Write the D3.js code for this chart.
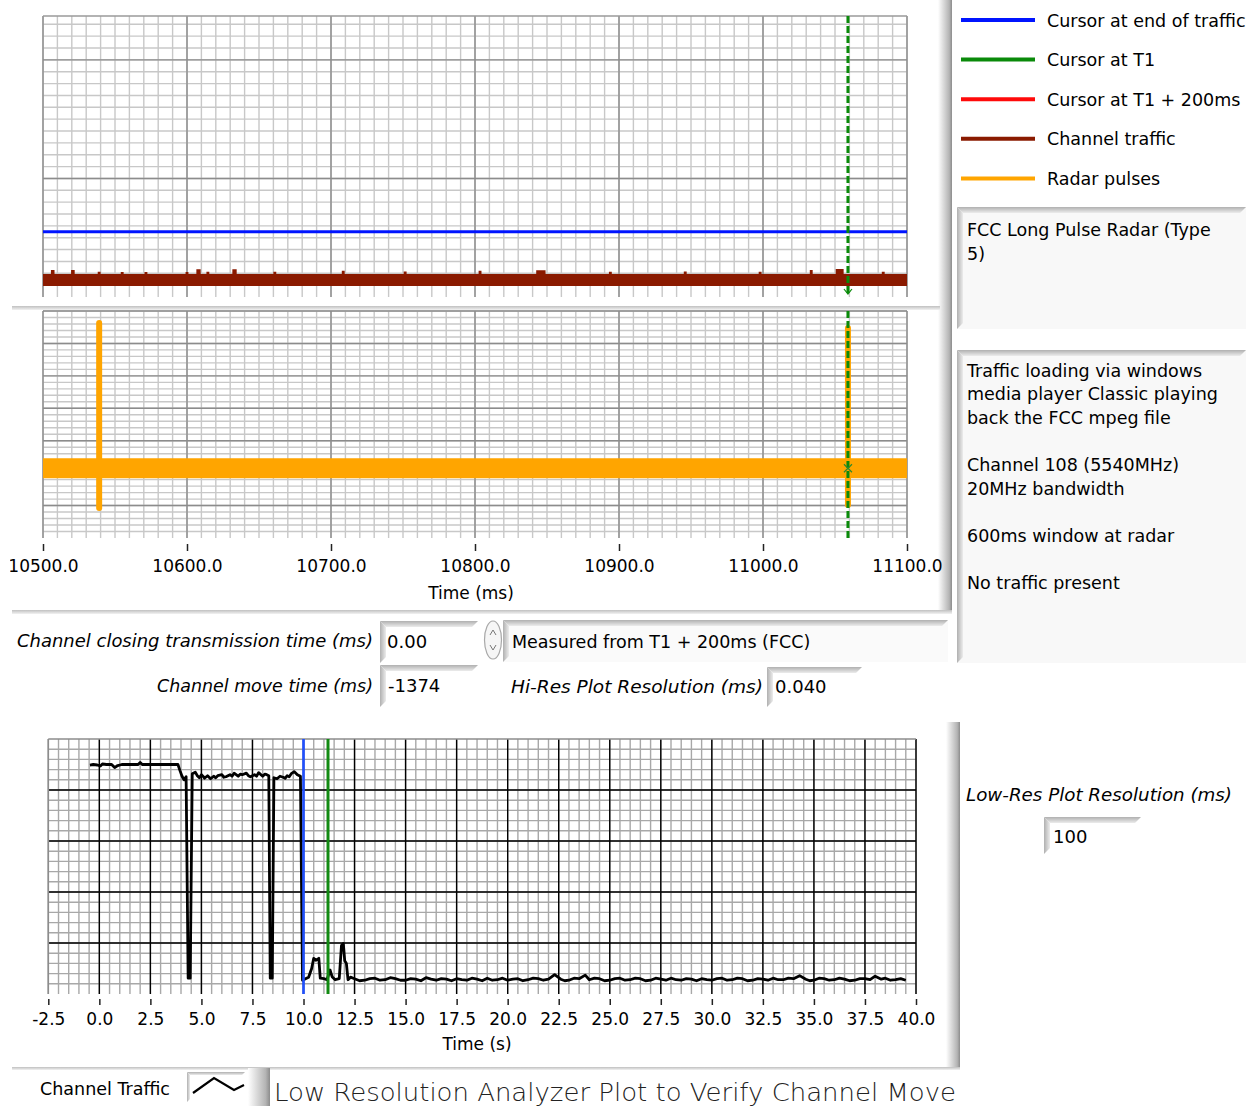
<!DOCTYPE html>
<html>
<head>
<meta charset="utf-8">
<script src="https://cdn.jsdelivr.net/npm/d3@7"></script>
<style>
  body { margin: 0; background: #fff; }
  text { font-family: "DejaVu Sans", sans-serif; fill: #000; }
</style>
</head>
<body>
<svg id="panel" width="1259" height="1106"></svg>
<script>
// ---- data ----
const hiResTicks = [10500, 10600, 10700, 10800, 10900, 11000, 11100]
const lowResTicks = [-2.5, 0, 2.5, 5, 7.5, 10, 12.5, 15, 17.5, 20, 22.5, 25, 27.5, 30, 32.5, 35, 37.5, 40]

const cursorT1ms = 11059          // green cursor in the hi-res plots
const endOfTrafficLevel = 0.551   // blue horizontal cursor, traffic plot units
const trafficLow = 0.093
// [time ms, upper edge of the traffic band]
const trafficTop = [
  [10500, 0.194], [10505.5, 0.228], [10508, 0.194], [10519.5, 0.228], [10522, 0.194],
  [10538, 0.214], [10540, 0.194], [10554, 0.21], [10556, 0.194], [10570.5, 0.21], [10572.5, 0.194],
  [10599, 0.21], [10601, 0.194], [10606.5, 0.234], [10609.5, 0.194], [10613.5, 0.212], [10615.5, 0.194],
  [10631.5, 0.234], [10634.5, 0.194], [10660, 0.212], [10662, 0.194], [10707.5, 0.222], [10709.5, 0.194],
  [10750.5, 0.216], [10752.5, 0.194], [10802.5, 0.222], [10804.5, 0.194], [10842.5, 0.226], [10849, 0.194],
  [10893, 0.214], [10895, 0.194], [10945, 0.216], [10947, 0.194], [10997, 0.214], [10999, 0.194],
  [11032.5, 0.228], [11034.5, 0.194], [11050.5, 0.236], [11056, 0.194], [11082.5, 0.214], [11084.5, 0.194],
  [11100, 0.194]
]
// [time ms, lower, upper] of the radar trace envelope
const radarBand = [[10500, 1.841, 2.458], [11100, 1.841, 2.458]]
// [time ms, bottom, top]
const radarPulses = [[10539, 0.925, 6.63], [11059, 1.018, 6.475]]

// low resolution channel traffic, [time s, level]
const lowResTraffic = [
  [-0.46, 4.49], [-0.3, 4.5], [-0.1, 4.49], [0.05, 4.47], [0.15, 4.51], [0.35, 4.5], [0.6, 4.5],
  [0.75, 4.44], [0.9, 4.48], [1.1, 4.5], [1.5, 4.5], [1.9, 4.5], [2.0, 4.54], [2.1, 4.5], [2.5, 4.5],
  [3.0, 4.5], [3.5, 4.5], [3.85, 4.5], [3.95, 4.38], [4.05, 4.27], [4.15, 4.2], [4.25, 4.26],
  [4.35, 0.31], [4.45, 0.31], [4.55, 4.32], [4.7, 4.35], [4.8, 4.28], [4.9, 4.24], [5.0, 4.3], [5.1, 4.26],
  [5.15, 4.23], [5.3, 4.28], [5.45, 4.22], [5.6, 4.27], [5.7, 4.24], [5.8, 4.28], [6.0, 4.3], [6.1, 4.25],
  [6.2, 4.26], [6.4, 4.3], [6.5, 4.27], [6.6, 4.33], [6.8, 4.27], [6.9, 4.31], [7.0, 4.3], [7.2, 4.33],
  [7.3, 4.28], [7.4, 4.26], [7.6, 4.3], [7.7, 4.27], [7.8, 4.34], [8.0, 4.27], [8.1, 4.31], [8.2, 4.3],
  [8.3, 4.28], [8.37, 0.31], [8.47, 0.31], [8.55, 4.24], [8.7, 4.22], [8.85, 4.27], [9.0, 4.25],
  [9.1, 4.23], [9.2, 4.28], [9.3, 4.26], [9.4, 4.32], [9.55, 4.36], [9.7, 4.3], [9.85, 4.27],
  [9.95, 0.27], [10.1, 0.3], [10.25, 0.33], [10.4, 0.5], [10.5, 0.7], [10.6, 0.66], [10.75, 0.7], [10.82, 0.31],
  [11.0, 0.3], [11.15, 0.28], [11.3, 0.47], [11.4, 0.34], [11.55, 0.28], [11.75, 0.3], [11.86, 0.95],
  [11.95, 0.99], [12.02, 0.65], [12.1, 0.6], [12.18, 0.28], [12.3, 0.33], [12.5, 0.3], [12.75, 0.26], [13.0, 0.27],
  [13.25, 0.3], [13.5, 0.31], [13.75, 0.27], [14.0, 0.28], [14.25, 0.32], [14.5, 0.3], [14.75, 0.27], [15.0, 0.27],
  [15.25, 0.3], [15.5, 0.29], [15.75, 0.26], [16.0, 0.32], [16.25, 0.29], [16.5, 0.27], [16.75, 0.3], [17.0, 0.29],
  [17.25, 0.26], [17.5, 0.3], [17.75, 0.28], [18.0, 0.27], [18.25, 0.31], [18.5, 0.29], [18.75, 0.26], [19.0, 0.31],
  [19.25, 0.27], [19.5, 0.28], [19.75, 0.31], [20.0, 0.27], [20.25, 0.29], [20.5, 0.3], [20.75, 0.26], [21.0, 0.28],
  [21.25, 0.31], [21.5, 0.3], [21.75, 0.27], [22.0, 0.29], [22.3, 0.38], [22.6, 0.29], [22.8, 0.26], [23.0, 0.27],
  [23.25, 0.31], [23.5, 0.3], [23.8, 0.37], [24.0, 0.28], [24.25, 0.31], [24.5, 0.3], [24.75, 0.26], [25.0, 0.27],
  [25.25, 0.3], [25.5, 0.31], [25.75, 0.27], [26.0, 0.28], [26.25, 0.31], [26.5, 0.3], [26.75, 0.26], [27.0, 0.27],
  [27.25, 0.31], [27.5, 0.29], [27.75, 0.27], [28.0, 0.31], [28.25, 0.28], [28.5, 0.27], [28.75, 0.3], [29.0, 0.29],
  [29.25, 0.26], [29.5, 0.3], [29.75, 0.28], [30.0, 0.27], [30.25, 0.3], [30.5, 0.31], [30.75, 0.27], [31.0, 0.28],
  [31.25, 0.31], [31.5, 0.3], [31.75, 0.26], [32.0, 0.27], [32.25, 0.3], [32.5, 0.29], [32.75, 0.27], [33.0, 0.31],
  [33.25, 0.28], [33.5, 0.28], [33.75, 0.31], [34.0, 0.3], [34.3, 0.36], [34.6, 0.29], [34.8, 0.26], [35.0, 0.27],
  [35.25, 0.31], [35.5, 0.3], [35.75, 0.27], [36.0, 0.28], [36.25, 0.31], [36.5, 0.29], [36.75, 0.26], [37.0, 0.27],
  [37.25, 0.3], [37.5, 0.3], [37.75, 0.28], [38.0, 0.35], [38.3, 0.29], [38.5, 0.31], [38.75, 0.27], [39.0, 0.28],
  [39.25, 0.3], [39.5, 0.27]
]
const lowResEndOfTraffic = 10.0
const lowResT1 = 11.2

const legendNames = ['Cursor at end of traffic', 'Cursor at T1', 'Cursor at T1 + 200ms', 'Channel traffic', 'Radar pulses']
const radarNote = ['FCC Long Pulse Radar (Type', '5)']
const testNotes = ['Traffic loading via windows', 'media player Classic playing', 'back the FCC mpeg file', '',
  'Channel 108 (5540MHz)', '20MHz bandwidth', '', '600ms window at radar', '', 'No traffic present']
const closingTime = '0.00'
const moveTime = '-1374'
const hiResResolution = '0.040'
const lowResResolution = '100'
const measuredFrom = 'Measured from T1 + 200ms (FCC)'

// ---- colours ----
const BLUE = '#0014ff', GREEN = '#0a8a0a', RED = '#ff0a0a', BROWN = '#8a1a00', ORANGE = '#ffa500'
const legendColors = [BLUE, GREEN, RED, BROWN, ORANGE]

const svg = d3.select('#panel')
const defs = svg.append('defs')

function grad(id, x2, y2, stops) {
    const g = defs.append('linearGradient').attr('id', id)
        .attr('x1', 0).attr('y1', 0).attr('x2', x2).attr('y2', y2)
    stops.forEach(([o, c]) => g.append('stop').attr('offset', o).attr('stop-color', c))
}
grad('shadeV', 1, 0, [['0%', '#ffffff'], ['80%', '#b4b4b4'], ['100%', '#8c8c8c']])
grad('bevelT', 0, 1, [['0%', '#b0b0b0'], ['100%', '#ececec']])
grad('bevelL', 1, 0, [['0%', '#b0b0b0'], ['100%', '#ececec']])
grad('sepH', 0, 1, [['0%', '#c0c0c0'], ['100%', '#f2f2f2']])

function insetBox(x, y, w, h, fill, b = 6) {
    const g = svg.append('g')
    g.append('rect').attr('x', x).attr('y', y).attr('width', w).attr('height', h).attr('fill', fill)
    g.append('path').attr('d', `M${x},${y}H${x + w}L${x + w - b},${y + b}H${x + b}Z`).attr('fill', 'url(#bevelT)')
    g.append('path').attr('d', `M${x},${y}L${x + b},${y + b}V${y + h - b}L${x},${y + h}Z`).attr('fill', 'url(#bevelL)')
    return g
}

function label(x, y, str, size, opts = {}) {
    const t = svg.append('text').attr('x', x).attr('y', y).attr('font-size', size).text(str)
    if (opts.anchor) t.attr('text-anchor', opts.anchor)
    if (opts.italic) t.attr('font-style', 'italic')
    if (opts.width) t.attr('textLength', opts.width).attr('lengthAdjust', 'spacingAndGlyphs')
    if (opts.weight) t.attr('font-weight', opts.weight)
    if (opts.fill) t.style('fill', opts.fill)
    return t
}

function grid(g, x, y, xMinor, xMajor, yMinor, yMajor, minorC, majorC) {
    const [x0, x1] = x.range(), [yb, yt] = y.range()
    const vline = (sel, c) => sel.attr('x1', d => x(d)).attr('x2', d => x(d)).attr('y1', yt).attr('y2', yb)
        .attr('stroke', c).attr('stroke-width', 1.4)
    const hline = (sel, c) => sel.attr('y1', d => y(d)).attr('y2', d => y(d)).attr('x1', x0).attr('x2', x1)
        .attr('stroke', c).attr('stroke-width', 1.4)
    g.append('g').selectAll('line').data(yMinor).join('line').call(hline, minorC)
    g.append('g').selectAll('line').data(xMinor).join('line').call(vline, minorC)
    g.append('g').selectAll('line').data(yMajor).join('line').call(hline, majorC)
    g.append('g').selectAll('line').data(xMajor).join('line').call(vline, majorC)
}

const tickFmt = d => d.toFixed(1)   // plain hyphen for negatives, as on the panel

// ---- panel chrome ----
svg.append('rect').attr('x', 938).attr('y', 0).attr('width', 14).attr('height', 612).attr('fill', 'url(#shadeV)')
svg.append('rect').attr('x', 12).attr('y', 306).attr('width', 928).attr('height', 4).attr('fill', 'url(#sepH)')
svg.append('rect').attr('x', 12).attr('y', 610).attr('width', 940).attr('height', 4).attr('fill', 'url(#sepH)')
svg.append('rect').attr('x', 946).attr('y', 722).attr('width', 14).attr('height', 346).attr('fill', 'url(#shadeV)')
svg.append('rect').attr('x', 12).attr('y', 1067).attr('width', 948).attr('height', 3).attr('fill', 'url(#sepH)')

// ---- hi-res traffic plot ----
const xHi = d3.scaleLinear([10500, 11100], [43, 907])
const yTraffic = d3.scaleLinear([0, 2.37], [297, 16])
const yRadar = d3.scaleLinear([0, 7], [538, 311])

const gTop = svg.append('g')
grid(gTop, xHi, yTraffic, d3.range(10500, 11100.1, 10), hiResTicks,
    d3.range(0.1, 2.37, 0.1), [1, 2], '#c8c8c8', '#8c8c8c')
gTop.append('line').attr('x1', 43).attr('x2', 907).attr('y1', 16).attr('y2', 16)
    .attr('stroke', '#9a9a9a').attr('stroke-width', 1.5)

gTop.append('line').attr('x1', 43).attr('x2', 907)
    .attr('y1', yTraffic(endOfTrafficLevel)).attr('y2', yTraffic(endOfTrafficLevel))
    .attr('stroke', BLUE).attr('stroke-width', 3)

gTop.append('path').datum(trafficTop)
    .attr('d', d3.area().x(d => xHi(d[0])).y0(yTraffic(trafficLow)).y1(d => yTraffic(d[1])).curve(d3.curveStepAfter))
    .attr('fill', BROWN)

gTop.append('line').attr('x1', xHi(cursorT1ms)).attr('x2', xHi(cursorT1ms)).attr('y1', 16).attr('y2', 296)
    .attr('stroke', GREEN).attr('stroke-width', 3).attr('stroke-dasharray', '7,3')
gTop.append('path').attr('d', `M${xHi(cursorT1ms) - 4},${289}L${xHi(cursorT1ms)},${294}L${xHi(cursorT1ms) + 4},${289}`)
    .attr('fill', 'none').attr('stroke', GREEN).attr('stroke-width', 1.2)

// ---- hi-res radar plot ----
const gRad = svg.append('g')
grid(gRad, xHi, yRadar, d3.range(10500, 11100.1, 10), hiResTicks,
    d3.range(0.2, 7.01, 0.2), [1, 2, 3, 4, 5, 6, 7], '#c8c8c8', '#8c8c8c')

gRad.append('path').datum(radarBand)
    .attr('d', d3.area().x(d => xHi(d[0])).y0(d => yRadar(d[1])).y1(d => yRadar(d[2])))
    .attr('fill', ORANGE)
gRad.selectAll('.pulse').data(radarPulses).join('line')
    .attr('x1', d => xHi(d[0])).attr('x2', d => xHi(d[0]))
    .attr('y1', d => yRadar(d[1])).attr('y2', d => yRadar(d[2]))
    .attr('stroke', ORANGE).attr('stroke-width', 6).attr('stroke-linecap', 'round')

gRad.append('line').attr('x1', xHi(cursorT1ms)).attr('x2', xHi(cursorT1ms)).attr('y1', 311).attr('y2', 538)
    .attr('stroke', GREEN).attr('stroke-width', 3).attr('stroke-dasharray', '7,3')
const cx = xHi(cursorT1ms), cy = yRadar((radarBand[0][1] + radarBand[0][2]) / 2)
gRad.append('path').attr('d', `M${cx - 4},${cy - 4}L${cx + 4},${cy + 4}M${cx + 4},${cy - 4}L${cx - 4},${cy + 4}`)
    .attr('stroke', '#2c8a2c').attr('stroke-width', 1.2)

// clip region in the axis group's own coordinates (translated to y=544)
defs.append('clipPath').attr('id', 'panelClip').append('rect')
    .attr('x', 10).attr('y', -20).attr('width', 940).attr('height', 80)
const axHi = svg.append('g').attr('transform', 'translate(0,544)').attr('clip-path', 'url(#panelClip)')
    .call(d3.axisBottom(xHi).tickValues(hiResTicks).tickFormat(tickFmt).tickSize(7).tickPadding(8.6))
axHi.select('.domain').remove()
axHi.attr('font-size', 17).attr('font-family', '"DejaVu Sans", sans-serif')
axHi.selectAll('line').attr('stroke', '#222').attr('stroke-width', 1.5)
label(471, 599, 'Time (ms)', 17, { anchor: 'middle' })

// ---- legend ----
const gLeg = svg.append('g')
gLeg.selectAll('line').data(legendNames).join('line')
    .attr('x1', 961).attr('x2', 1035)
    .attr('y1', (d, i) => 20 + i * 39.6).attr('y2', (d, i) => 20 + i * 39.6)
    .attr('stroke', (d, i) => legendColors[i]).attr('stroke-width', 4)
gLeg.selectAll('text').data(legendNames).join('text')
    .attr('x', 1047).attr('y', (d, i) => 26.5 + i * 39.6).attr('font-size', 17.5).text(d => d)

// ---- note boxes ----
insetBox(957, 207, 289, 122, '#f8f8f8')
radarNote.forEach((s, i) => label(967, 236 + i * 23.6, s, 17.5))
insetBox(957, 350, 289, 313, '#f8f8f8')
testNotes.forEach((s, i) => label(967, 376.7 + i * 23.6, s, 17.5))

// ---- controls ----
label(373, 647, 'Channel closing transmission time (ms)', 18, { anchor: 'end', italic: true, width: 356 })
insetBox(380, 621, 98, 42, '#ffffff')
label(387, 647.5, closingTime, 18)
svg.append('ellipse').attr('cx', 493).attr('cy', 640).attr('rx', 8.5).attr('ry', 19)
    .attr('fill', '#f6f6f6').attr('stroke', '#a8a8a8').attr('stroke-width', 1.2)
svg.append('path').attr('d', 'M490,635L493,630L496,635M490,645L493,650L496,645')
    .attr('fill', 'none').attr('stroke', '#777').attr('stroke-width', 1)
insetBox(503, 620, 445, 42, '#fafafa')
label(512, 647.5, measuredFrom, 17.5)

label(373, 692, 'Channel move time (ms)', 18, { anchor: 'end', italic: true, width: 216 })
insetBox(380, 665, 98, 42, '#ffffff')
label(388, 692, moveTime, 18)

label(511, 693, 'Hi-Res Plot Resolution (ms)', 18, { italic: true, width: 252 })
insetBox(767, 667, 95, 40, '#ffffff')
label(775, 693, hiResResolution, 18)

label(966, 801, 'Low-Res Plot Resolution (ms)', 18, { italic: true, width: 266 })
insetBox(1044, 817, 97, 37, '#ffffff')
label(1053, 843, lowResResolution, 18)

// ---- low resolution analyzer plot ----
const xLow = d3.scaleLinear([-2.5, 40], [48.3, 916])
const yLow = d3.scaleLinear([0, 5], [994, 739])
const gLow = svg.append('g')
grid(gLow, xLow, yLow, d3.range(-2.5, 40.01, 0.5), lowResTicks.slice(1),
    d3.range(0.2, 5, 0.2), [1, 2, 3, 4], '#a8a8a8', '#000000')
gLow.append('line').attr('x1', 48.3).attr('x2', 916).attr('y1', 739).attr('y2', 739)
    .attr('stroke', '#8c8c8c').attr('stroke-width', 1.6)
gLow.append('line').attr('x1', 48.3).attr('x2', 48.3).attr('y1', 739).attr('y2', 994)
    .attr('stroke', '#8c8c8c').attr('stroke-width', 1.6)

gLow.append('path').datum(lowResTraffic)
    .attr('d', d3.line().x(d => xLow(d[0])).y(d => yLow(d[1])))
    .attr('fill', 'none').attr('stroke', '#000').attr('stroke-width', 2.8).attr('stroke-linejoin', 'round')

gLow.append('line').attr('x1', xLow(lowResEndOfTraffic)).attr('x2', xLow(lowResEndOfTraffic))
    .attr('y1', 739).attr('y2', 994).attr('stroke', '#2050ff').attr('stroke-width', 2.6)
gLow.append('line').attr('x1', xLow(lowResT1)).attr('x2', xLow(lowResT1))
    .attr('y1', 739).attr('y2', 994).attr('stroke', '#128a12').attr('stroke-width', 3)

const axLow = svg.append('g').attr('transform', 'translate(0,999)')
    .call(d3.axisBottom(xLow).tickValues(lowResTicks).tickFormat(tickFmt).tickSize(6).tickPadding(7.9))
axLow.select('.domain').remove()
axLow.attr('font-size', 17).attr('font-family', '"DejaVu Sans", sans-serif')
axLow.selectAll('line').attr('stroke', '#222').attr('stroke-width', 1.5)
label(477, 1050, 'Time (s)', 17, { anchor: 'middle' })

// ---- bottom bar ----
label(40, 1095, 'Channel Traffic', 17.5)
insetBox(187, 1072, 58, 30, '#ffffff', 3)
svg.append('path').attr('d', 'M193,1093L214,1078L234,1090L244,1085')
    .attr('fill', 'none').attr('stroke', '#000').attr('stroke-width', 2.2)
svg.append('rect').attr('x', 248).attr('y', 1068).attr('width', 22).attr('height', 38).attr('fill', 'url(#shadeV)')
label(274, 1101, 'Low Resolution Analyzer Plot to Verify Channel Move', 25.5, { width: 682, weight: 300, fill: '#222' })
</script>
</body>
</html>
